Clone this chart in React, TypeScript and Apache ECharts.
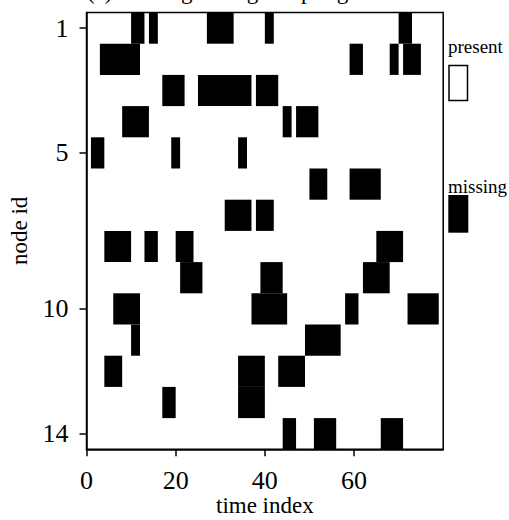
import React, { useEffect, useRef } from "react";
import * as echarts from "echarts";

// time index runs 0..79 (80 steps), node ids 1..14
const timeSteps = 80;
const nodeIds = [1, 2, 3, 4, 5, 6, 7, 8, 9, 10, 11, 12, 13, 14];
const xTickValues = [0, 20, 40, 60];
const yTickValues = [1, 5, 10, 14];

// missing runs per node: [firstIndex, lastIndex] (inclusive)
const node1 = [[10, 12], [14, 15], [27, 32], [40, 41], [70, 72]];
const node2 = [[3, 11], [59, 61], [68, 69], [71, 74]];
const node3 = [[17, 21], [25, 36], [38, 42]];
const node4 = [[8, 13], [44, 45], [47, 51]];
const node5 = [[1, 3], [19, 20], [34, 35]];
const node6 = [[50, 53], [59, 65]];
const node7 = [[31, 36], [38, 41]];
const node8 = [[4, 9], [13, 15], [20, 23], [65, 70]];
const node9 = [[21, 25], [39, 43], [62, 67]];
const node10 = [[6, 11], [37, 44], [58, 60], [72, 78]];
const node11 = [[10, 11], [49, 56]];
const node12 = [[4, 7], [34, 39], [43, 48]];
const node13 = [[17, 19], [34, 39]];
const node14 = [[44, 46], [51, 55], [66, 70]];
const missingRuns = [node1, node2, node3, node4, node5, node6, node7, node8, node9, node10, node11, node12, node13, node14];

const titleText = "(a) Missing during sampling";
const legendPresent = "present";
const legendMissing = "missing";

const FONT = "Liberation Serif";

export default function App() {
  const ref = useRef<HTMLDivElement>(null);
  useEffect(() => {
    if (!ref.current) return;
    const chart = echarts.init(ref.current, null, { renderer: "svg" });
    const data: number[][] = [];
    missingRuns.forEach((runs, i) => {
      runs.forEach((r) => data.push([r[0], r[1], nodeIds[i]]));
    });
    const axisLineStyle = { color: "#000", width: 1.5 };
    chart.setOption({
      animation: false,
      backgroundColor: "#fff",
      textStyle: { fontFamily: FONT, color: "#000" },
      grid: {
        left: 86.5,
        right: 65.8,
        top: 12.5,
        bottom: 70.7,
        outerBoundsMode: "none",
        containLabel: false,
        show: true,
        borderColor: "#000",
        borderWidth: 1.5,
        backgroundColor: "#fff",
      },
      xAxis: {
        type: "value",
        min: 0,
        max: timeSteps,
        interval: 20,
        name: "time index",
        nameLocation: "middle",
        nameGap: 45,
        nameMoveOverlap: false,
        nameTextStyle: { fontFamily: FONT, fontSize: 23, color: "#000" },
        axisLine: { show: true, lineStyle: axisLineStyle },
        axisTick: { show: true, length: 7, lineStyle: axisLineStyle, customValues: xTickValues },
        axisLabel: { fontFamily: FONT, fontSize: 26, color: "#000", margin: 18, customValues: xTickValues },
        splitLine: { show: false },
      },
      yAxis: {
        type: "value",
        inverse: true,
        min: 0.5,
        max: nodeIds.length + 0.5,
        name: "node id",
        nameLocation: "middle",
        nameGap: 56,
        nameMoveOverlap: false,
        nameTextStyle: { fontFamily: FONT, fontSize: 23, color: "#000" },
        axisLine: { show: true, lineStyle: axisLineStyle },
        axisTick: { show: true, length: 7, lineStyle: axisLineStyle, customValues: yTickValues },
        axisLabel: { fontFamily: FONT, fontSize: 26, color: "#000", margin: 18, customValues: yTickValues },
        splitLine: { show: false },
      },
      series: [
        {
          type: "custom",
          data,
          encode: { x: [0, 1], y: 2 },
          renderItem: (params: any, api: any) => {
            const s = api.value(0);
            const e = api.value(1);
            const n = api.value(2);
            const p1 = api.coord([s, n - 0.5]);
            const p2 = api.coord([e + 1, n + 0.5]);
            return {
              type: "rect",
              shape: {
                x: Math.min(p1[0], p2[0]),
                y: Math.min(p1[1], p2[1]),
                width: Math.abs(p2[0] - p1[0]),
                height: Math.abs(p2[1] - p1[1]),
              },
              style: { fill: "#000", stroke: null },
            };
          },
        },
      ],
      graphic: [
        {
          type: "text",
          left: 87,
          top: -20,
          style: { text: titleText, font: `23px '${FONT}'`, fill: "#000" },
        },
        {
          type: "text",
          x: 448,
          y: 46,
          style: { text: legendPresent, font: `19px '${FONT}'`, fill: "#000", verticalAlign: "middle" },
        },
        {
          type: "rect",
          shape: { x: 449, y: 65.5, width: 18.5, height: 35 },
          style: { fill: "#fff", stroke: "#000", lineWidth: 1.5 },
        },
        {
          type: "text",
          x: 448,
          y: 186,
          style: { text: legendMissing, font: `19px '${FONT}'`, fill: "#000", verticalAlign: "middle" },
        },
        {
          type: "rect",
          shape: { x: 448.3, y: 195, width: 20, height: 37.7 },
          style: { fill: "#000" },
        },
      ],
    });
    return () => chart.dispose();
  }, []);
  return <div ref={ref} style={{ position: "fixed", left: 0, top: 0, width: 509, height: 520 }} />;
}
